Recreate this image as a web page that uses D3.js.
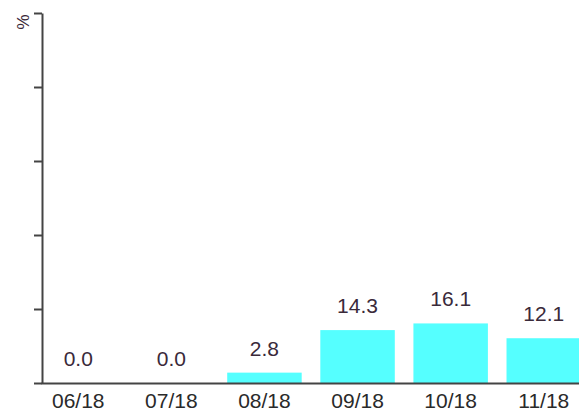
<!DOCTYPE html>
<html>
<head>
<meta charset="utf-8">
<title>bars</title>
<script src="https://d3js.org/d3.v7.min.js"></script>
<style>
    body { margin: 0; background: white; }
    svg { display: block; font-family: "Liberation Sans", Arial, sans-serif; }
    .axis path, .axis line { stroke: #444; stroke-width: 2; }
    .axis text { fill: #2a2a2a; font-size: 21px; }
</style>
</head>
<body>
<svg id="main" width="579" height="411"></svg>
<script>
    // data
    let months = ['06/18', '07/18', '08/18', '09/18', '10/18', '11/18'];
    let values = [0.0, 0.0, 2.8, 14.3, 16.1, 12.1];
    let yTicks = [0, 20, 40, 60, 80, 100];
    let unit = '%';

    let svg = d3.select('svg#main');

    let x = d3.scaleBand()
        .domain(months)
        .range([41, 581])
        .paddingInner(0.2)
        .paddingOuter(0);

    let y = d3.scaleLinear()
        .domain([0, 100])
        .range([383, 13]);

    // bars
    svg.append('g')
        .selectAll('rect')
        .data(values)
        .enter()
        .append('rect')
            .attr('x', (d, i) => x(months[i]))
            .attr('y', d => y(d))
            .attr('width', x.bandwidth())
            .attr('height', d => y(0) - y(d))
            .attr('fill', '#55ffff');

    // value labels
    svg.append('g')
        .selectAll('text')
        .data(values)
        .enter()
        .append('text')
            .attr('x', (d, i) => x(months[i]) + x.bandwidth() / 2)
            .attr('y', d => y(d) - 17)
            .attr('text-anchor', 'middle')
            .attr('font-size', '21px')
            .attr('fill', '#3a2a3a')
            .text(d => d.toFixed(1));

    // x axis
    svg.append('g')
        .attr('class', 'axis')
        .attr('transform', 'translate(0,' + y(0) + ')')
        .call(d3.axisBottom(x).tickSize(0).tickSizeOuter(0).tickPadding(10));

    // y axis, ticks only
    svg.append('g')
        .attr('class', 'axis')
        .attr('transform', 'translate(42,0)')
        .call(d3.axisLeft(y).tickValues(yTicks).tickFormat('').tickSize(8).tickSizeOuter(0));

    svg.append('text')
        .attr('transform', 'translate(23,22) rotate(90)')
        .attr('text-anchor', 'middle')
        .attr('dy', '0.35em')
        .attr('font-size', '17px')
        .attr('fill', '#3a2a3a')
        .text(unit);
</script>
</body>
</html>
